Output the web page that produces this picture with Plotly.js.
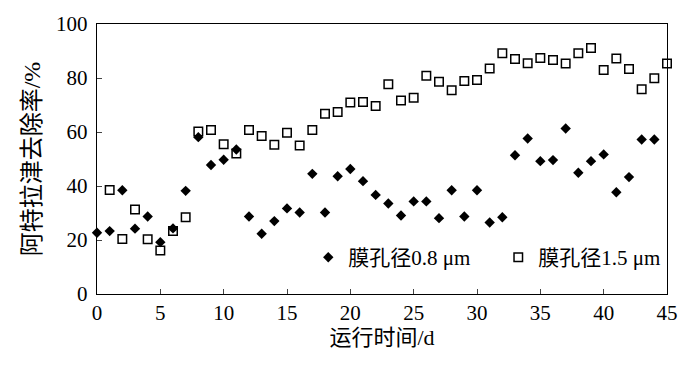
<!DOCTYPE html>
<html><head><meta charset="utf-8">
<script src="https://cdn.plot.ly/plotly-3.0.1.min.js"></script>
<style>html,body{margin:0;padding:0;background:#fff;}#chart{width:700px;height:367px;}</style>
</head><body><div id="chart"></div>
<script>
var days08 = [0,1,2,3,4,5,6,7,8,9,10,11,12,13,14,15,16,17,18,19,20,21,22,23,24,25,26,27,28,29,30,31,32,33,34,35,36,37,38,39,40,41,42,43,44];
var removal08 = [22.7,23.3,38.4,24.2,28.7,19.2,24.3,38.2,58.1,47.8,49.7,53.5,28.7,22.3,27.0,31.7,30.2,44.5,30.2,43.6,46.3,41.8,36.7,33.5,29.1,34.3,34.3,28.1,38.4,28.7,38.4,26.5,28.4,51.4,57.6,49.2,49.6,61.3,44.9,49.2,51.7,37.7,43.3,57.2,57.2];
var days15 = [1,2,3,4,5,6,7,8,9,10,11,12,13,14,15,16,17,18,19,20,21,22,23,24,25,26,27,28,29,30,31,32,33,34,35,36,37,38,39,40,41,42,43,44,45];
var removal15 = [38.5,20.4,31.3,20.3,16.1,23.3,28.4,60.2,60.7,55.5,52.0,60.7,58.5,55.3,59.7,55.0,60.7,66.8,67.4,70.9,71.1,69.6,77.7,71.7,72.7,80.8,78.6,75.5,78.9,79.3,83.5,89.2,87.0,85.5,87.4,86.7,85.4,89.2,91.1,83.0,87.2,83.3,75.8,79.9,85.4];
var name08 = '膜孔径0.8 μm';
var name15 = '膜孔径1.5 μm';
var xTitle = '运行时间/d';
var yTitle = '阿特拉津去除率/%';

var fontFam = 'Liberation Serif, Times New Roman, Noto Sans CJK SC, serif';
var traces = [
  {x: days08, y: removal08, name: name08, type: 'scatter', mode: 'markers', cliponaxis: false,
   marker: {symbol: 'diamond', size: 8, color: '#000'}},
  {x: days15, y: removal15, name: name15, type: 'scatter', mode: 'markers', cliponaxis: false,
   marker: {symbol: 'square-open', size: 8.5, color: '#000', line: {width: 1.5, color: '#000'}}}
];
var layout = {
  width: 700, height: 367,
  margin: {l: 97, r: 32, t: 24, b: 73},
  paper_bgcolor: '#fff', plot_bgcolor: '#fff',
  font: {family: fontFam, size: 21, color: '#000'},
  showlegend: true,
  legend: {orientation: 'h', x: 0.37, y: 0.135, xanchor: 'left', yanchor: 'middle',
           bgcolor: 'rgba(0,0,0,0)', font: {size: 21, family: fontFam}, entrywidth: 145, entrywidthmode: 'pixels'},
  xaxis: {range: [0, 45], tickvals: [0,5,10,15,20,25,30,35,40,45], ticks: 'inside', ticklen: 5, tickwidth: 1,
          showline: true, linecolor: '#000', linewidth: 1.2, mirror: true, showgrid: false, zeroline: false,
          title: {text: xTitle, font: {size: 22}, standoff: 2}, tickfont: {size: 21}},
  yaxis: {range: [0, 100], tickvals: [0,20,40,60,80,100], ticks: 'inside', ticklen: 5, tickwidth: 1,
          showline: true, linecolor: '#000', linewidth: 1.2, mirror: true, showgrid: false, zeroline: false,
          ticklabelstandoff: 4,
          title: {text: yTitle, font: {size: 24}, standoff: 8}, tickfont: {size: 21}}
};
Plotly.newPlot('chart', traces, layout, {displayModeBar: false, staticPlot: true});
</script></body></html>
